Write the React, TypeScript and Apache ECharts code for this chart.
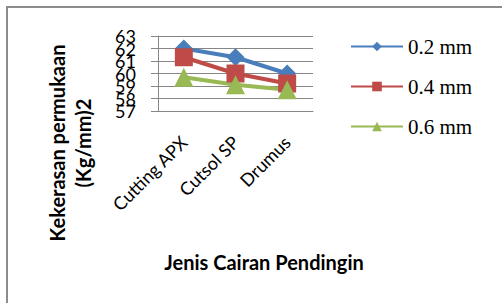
import React, { useEffect, useRef } from "react";
import * as echarts from "echarts";

const categories = ["Cutting APX", "Cutsol SP", "Drumus"];
const series02 = [62.0, 61.3, 60.0];
const series04 = [61.3, 60.0, 59.2];
const series06 = [59.7, 59.1, 58.7];
const seriesNames = ["0.2 mm", "0.4 mm", "0.6 mm"];
const yMin = 57;
const yMax = 63;

export default function App() {
  const ref = useRef<HTMLDivElement>(null);
  useEffect(() => {
    if (!ref.current) return;
    const chart = echarts.init(ref.current, null, { renderer: "svg" });
    const font = "Lato, 'Open Sans', sans-serif";
    const labelBase = {
      margin: 22,
      fontFamily: font,
      fontSize: 18,
      color: "#000",
      showMinLabel: true,
      showMaxLabel: true,
      hideOverlap: false,
    };
    chart.setOption({
      animation: false,
      backgroundColor: "#ffffff",
      grid: { left: 158, right: 189, top: 36, bottom: 192 },
      legend: {
        orient: "vertical",
        left: 345,
        top: 31,
        itemGap: 19,
        itemWidth: 52,
        itemHeight: 12,
        textStyle: { fontFamily: "'Liberation Serif', serif", fontSize: 21, color: "#000" },
        data: seriesNames,
      },
      xAxis: {
        type: "category",
        data: categories,
        boundaryGap: true,
        axisLine: { show: true, lineStyle: { color: "#868686", width: 1 } },
        axisTick: { show: false },
        axisLabel: { rotate: 45, margin: 28, fontFamily: font, fontSize: 18, color: "#000", interval: 0 },
      },
      yAxis: [
        {
          type: "value",
          min: yMin,
          max: yMax,
          interval: 1,
          axisLine: { show: true, lineStyle: { color: "#868686", width: 1 } },
          axisTick: { show: true, length: 7, lineStyle: { color: "#868686" } },
          splitLine: { show: true, lineStyle: { color: "#868686", width: 1 } },
          axisLabel: {
            ...labelBase,
            formatter: (v: number) => (Math.round(v) % 2 === 1 ? String(v) : ""),
          },
        },
        {
          type: "value",
          position: "left",
          min: yMin,
          max: yMax,
          interval: 1,
          axisLine: { show: false },
          axisTick: { show: false },
          splitLine: { show: false },
          axisLabel: {
            ...labelBase,
            formatter: (v: number) => (Math.round(v) % 2 === 0 ? String(v) : ""),
          },
        },
      ],
      graphic: [
        {
          type: "rect",
          shape: { x: 7, y: 7, width: 620, height: 420 },
          style: { fill: "none", stroke: "#8c8c8c", lineWidth: 2 },
        },
        {
          type: "text",
          x: 70,
          y: 143,
          rotation: Math.PI / 2,
          style: {
            text: "Kekerasan permukaan\n(Kg/mm)2",
            fontFamily: font,
            fontWeight: "bold",
            fontSize: 20,
            lineHeight: 26,
            fill: "#000",
            align: "center",
            verticalAlign: "middle",
          },
        },
        {
          type: "text",
          x: 264,
          y: 262,
          style: {
            text: "Jenis Cairan Pendingin",
            fontFamily: font,
            fontWeight: "bold",
            fontSize: 20,
            fill: "#000",
            align: "center",
            verticalAlign: "middle",
          },
        },
      ],
      series: [
        {
          name: seriesNames[0],
          type: "line",
          data: series02,
          symbol: "diamond",
          symbolSize: 18,
          itemStyle: { color: "#4A7EBB" },
          lineStyle: { color: "#4A7EBB", width: 4 },
        },
        {
          name: seriesNames[1],
          type: "line",
          data: series04,
          symbol: "rect",
          symbolSize: 18,
          itemStyle: { color: "#BE4B48" },
          lineStyle: { color: "#BE4B48", width: 4 },
        },
        {
          name: seriesNames[2],
          type: "line",
          data: series06,
          symbol: "triangle",
          symbolSize: 19,
          itemStyle: { color: "#98B954" },
          lineStyle: { color: "#98B954", width: 4 },
        },
      ],
    });
    return () => chart.dispose();
  }, []);
  return (
    <div
      ref={ref}
      style={{ position: "absolute", left: 0, top: 0, width: 502, height: 303 }}
    />
  );
}
